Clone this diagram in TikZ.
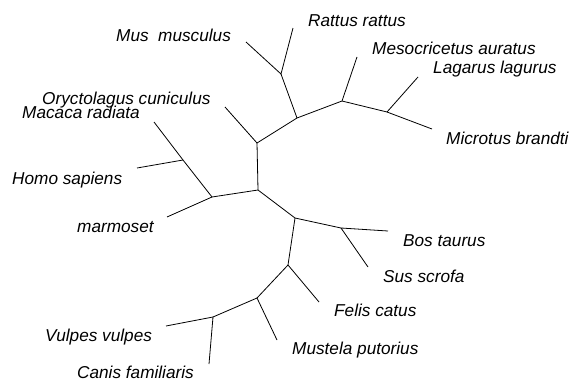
\documentclass[tikz,border=0pt]{standalone}
\usepackage{fontspec}
\setmainfont{Liberation Sans}
\begin{document}
\begin{tikzpicture}[x=1pt,y=-1pt,
  branch/.style={line width=0.8pt, black},
  lbl/.style={anchor=base west, inner sep=0pt, font=\fontsize{17.2}{19}\selectfont\itshape}]
\useasboundingbox (0,0) rectangle (572,383);
% internal nodes
\coordinate (n1) at (281,74);
\coordinate (nA) at (297,118);
\coordinate (n2) at (342,101);
\coordinate (n3) at (387,112);
\coordinate (nB) at (257,143);
\coordinate (nC) at (258,190);
\coordinate (nH) at (212,197);
\coordinate (nM) at (183,160);
\coordinate (nD) at (295,218);
\coordinate (nBS) at (341,228);
\coordinate (nE) at (288,265);
\coordinate (nF) at (257,298);
\coordinate (nG) at (213,317);
% leaves
\coordinate (lMus) at (246,42);
\coordinate (lRat) at (293,28);
\coordinate (lMes) at (357,57);
\coordinate (lLag) at (418,77);
\coordinate (lMic) at (432,129);
\coordinate (lOry) at (225,107);
\coordinate (lMac) at (154,122);
\coordinate (lHom) at (137,168);
\coordinate (lMar) at (167,217);
\coordinate (lBos) at (388,231);
\coordinate (lSus) at (368,267);
\coordinate (lFel) at (319,302);
\coordinate (lMust) at (277,340);
\coordinate (lVul) at (166,326);
\coordinate (lCan) at (209,364);
% branches
\draw[branch] (lMus) -- (n1) -- (lRat);
\draw[branch] (n1) -- (nA) -- (n2) -- (lMes);
\draw[branch] (n2) -- (n3) -- (lLag);
\draw[branch] (n3) -- (lMic);
\draw[branch] (nA) -- (nB) -- (lOry);
\draw[branch] (nB) -- (nC);
\draw[branch] (nC) -- (nH) -- (nM) -- (lMac);
\draw[branch] (nM) -- (lHom);
\draw[branch] (nH) -- (lMar);
\draw[branch] (nC) -- (nD) -- (nBS) -- (lBos);
\draw[branch] (nBS) -- (lSus);
\draw[branch] (nD) -- (nE) -- (lFel);
\draw[branch] (nE) -- (nF) -- (lMust);
\draw[branch] (nF) -- (nG) -- (lVul);
\draw[branch] (nG) -- (lCan);
% labels
\node[lbl] (tMus) at (116,41) {Mus\ \ musculus};
\node[lbl] (tRat) at (308,26) {Rattus rattus};
\node[lbl] (tMes) at (372,54) {Mesocricetus auratus};
\node[lbl] (tLag) at (433,73) {Lagarus lagurus};
\node[lbl] (tMic) at (446,144) {Microtus brandti};
\node[lbl] (tOry) at (42,104) {Oryctolagus cuniculus};
\node[lbl] (tMac) at (22,118) {Macaca radiata};
\node[lbl] (tHom) at (12,184) {Homo sapiens};
\node[lbl] (tMar) at (77,232) {marmoset};
\node[lbl] (tBos) at (403,246) {Bos taurus};
\node[lbl] (tSus) at (383,282) {Sus scrofa};
\node[lbl] (tFel) at (334,316) {Felis catus};
\node[lbl] (tMust) at (292,354) {Mustela putorius};
\node[lbl] (tVul) at (45,341) {Vulpes vulpes};
\node[lbl] (tCan) at (77,378) {Canis familiaris};
\end{tikzpicture}
\end{document}
